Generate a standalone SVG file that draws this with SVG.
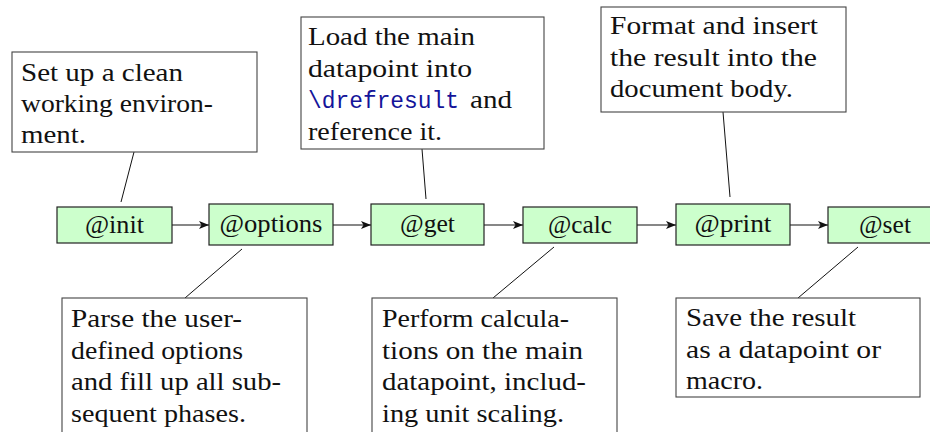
<svg xmlns="http://www.w3.org/2000/svg" width="930" height="432" viewBox="0 0 930 432">
<defs>
<style>
text{font-family:'Liberation Serif','Times New Roman',serif;font-size:26px;fill:#111}
text.c{text-anchor:middle}
text.mono{font-family:'Liberation Mono','Courier New',monospace;font-size:24px;fill:#14149a}
.phase{fill:#ccffcc;stroke:#222;stroke-width:1.2}
.note{fill:#fff;stroke:#444;stroke-width:1.1}
.flow{stroke:#111;stroke-width:1.1;fill:none}
.pin{stroke:#111;stroke-width:1;fill:none}
</style>
<marker id="arr" viewBox="0 0 10 8" refX="10" refY="4" markerWidth="10" markerHeight="8" markerUnits="userSpaceOnUse" orient="auto">
<path d="M0,0 L10,4 L0,8 L2.5,4 Z" fill="#111"/>
</marker>
</defs>
<rect width="930" height="432" fill="#fff"/>

<g id="connectors">
<line class="flow" x1="172" y1="225" x2="209" y2="225" marker-end="url(#arr)"/>
<line class="flow" x1="333" y1="225" x2="371" y2="225" marker-end="url(#arr)"/>
<line class="flow" x1="484" y1="225" x2="523" y2="225" marker-end="url(#arr)"/>
<line class="flow" x1="637" y1="225" x2="676" y2="225" marker-end="url(#arr)"/>
<line class="flow" x1="790" y1="225" x2="828" y2="225" marker-end="url(#arr)"/>
<line class="pin" x1="134" y1="152" x2="121" y2="202"/>
<line class="pin" x1="422" y1="149" x2="426" y2="199"/>
<line class="pin" x1="723" y1="112" x2="730" y2="197"/>
<line class="pin" x1="185" y1="298" x2="242" y2="249"/>
<line class="pin" x1="493" y1="298" x2="554" y2="247"/>
<line class="pin" x1="798" y1="298" x2="858" y2="247"/>
</g>

<g id="init">
<rect class="phase" x="57" y="207" width="115" height="36"/>
<text class="c" x="114.5" y="233" textLength="59" lengthAdjust="spacingAndGlyphs">@init</text>
</g>
<g id="options">
<rect class="phase" x="209" y="204" width="124" height="41"/>
<text class="c" x="271" y="232" textLength="103" lengthAdjust="spacingAndGlyphs">@options</text>
</g>
<g id="get">
<rect class="phase" x="371" y="204" width="113" height="41"/>
<text class="c" x="427.5" y="232" textLength="55" lengthAdjust="spacingAndGlyphs">@get</text>
</g>
<g id="calc">
<rect class="phase" x="523" y="207" width="114" height="36"/>
<text class="c" x="580" y="233" textLength="64" lengthAdjust="spacingAndGlyphs">@calc</text>
</g>
<g id="print">
<rect class="phase" x="676" y="204" width="114" height="41"/>
<text class="c" x="733" y="232" textLength="77" lengthAdjust="spacingAndGlyphs">@print</text>
</g>
<g id="set">
<rect class="phase" x="828" y="207" width="114" height="36"/>
<text class="c" x="885" y="233" textLength="52" lengthAdjust="spacingAndGlyphs">@set</text>
</g>

<g id="note-init">
<rect class="note" x="12" y="52" width="245" height="100"/>
<text x="21" y="81" textLength="162" lengthAdjust="spacingAndGlyphs">Set up a clean</text>
<text x="21" y="112" textLength="192" lengthAdjust="spacingAndGlyphs">working environ-</text>
<text x="21" y="143" textLength="65" lengthAdjust="spacingAndGlyphs">ment.</text>
</g>
<g id="note-get">
<rect class="note" x="301" y="17" width="243" height="132"/>
<text x="308" y="45" textLength="167" lengthAdjust="spacingAndGlyphs">Load the main</text>
<text x="308" y="76.5" textLength="164" lengthAdjust="spacingAndGlyphs">datapoint into</text>
<text class="mono" x="308" y="108" textLength="151" lengthAdjust="spacingAndGlyphs">\drefresult</text>
<text x="470" y="108" textLength="42" lengthAdjust="spacingAndGlyphs">and</text>
<text x="308" y="139.5" textLength="134" lengthAdjust="spacingAndGlyphs">reference it.</text>
</g>
<g id="note-print">
<rect class="note" x="601" y="7" width="245" height="105"/>
<text x="610" y="34" textLength="208" lengthAdjust="spacingAndGlyphs">Format and insert</text>
<text x="610" y="65.5" textLength="207" lengthAdjust="spacingAndGlyphs">the result into the</text>
<text x="610" y="97" textLength="183" lengthAdjust="spacingAndGlyphs">document body.</text>
</g>
<g id="note-options">
<rect class="note" x="62" y="298" width="245" height="140"/>
<text x="71" y="327" textLength="171" lengthAdjust="spacingAndGlyphs">Parse the user-</text>
<text x="71" y="358.5" textLength="172" lengthAdjust="spacingAndGlyphs">defined options</text>
<text x="71" y="390" textLength="210" lengthAdjust="spacingAndGlyphs">and fill up all sub-</text>
<text x="71" y="421.5" textLength="175" lengthAdjust="spacingAndGlyphs">sequent phases.</text>
</g>
<g id="note-calc">
<rect class="note" x="372" y="298" width="245" height="140"/>
<text x="382" y="327" textLength="187" lengthAdjust="spacingAndGlyphs">Perform calcula-</text>
<text x="382" y="358.5" textLength="201" lengthAdjust="spacingAndGlyphs">tions on the main</text>
<text x="382" y="390" textLength="204" lengthAdjust="spacingAndGlyphs">datapoint, includ-</text>
<text x="382" y="421.5" textLength="182" lengthAdjust="spacingAndGlyphs">ing unit scaling.</text>
</g>
<g id="note-set">
<rect class="note" x="676" y="298" width="244" height="99"/>
<text x="686" y="326" textLength="170" lengthAdjust="spacingAndGlyphs">Save the result</text>
<text x="686" y="357.5" textLength="195" lengthAdjust="spacingAndGlyphs">as a datapoint or</text>
<text x="686" y="389" textLength="77" lengthAdjust="spacingAndGlyphs">macro.</text>
</g>
</svg>
